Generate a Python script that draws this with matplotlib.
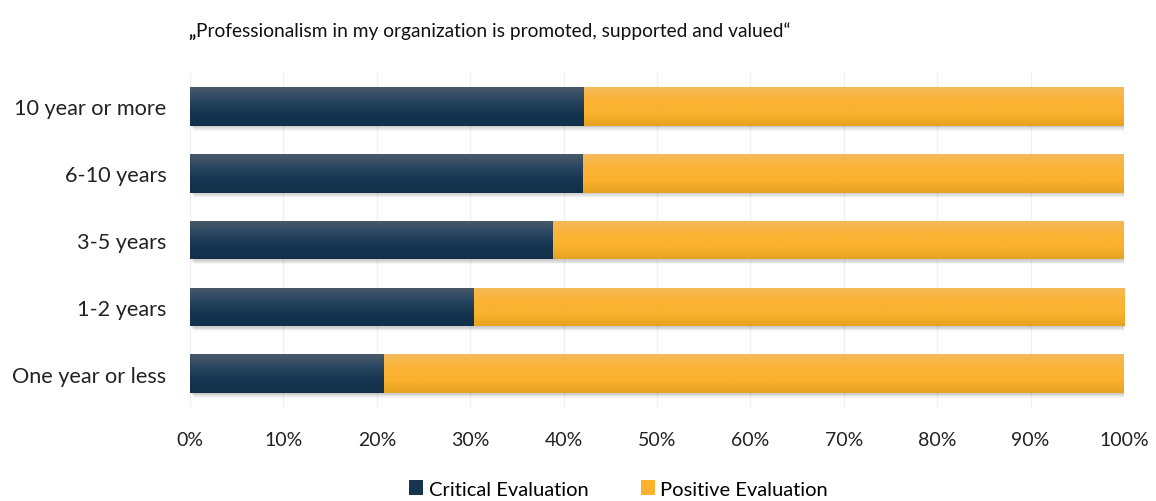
import numpy as np
import matplotlib.pyplot as plt
from matplotlib.colors import LinearSegmentedColormap
from matplotlib.patches import Rectangle
from matplotlib.offsetbox import TextArea, HPacker, AnchoredOffsetbox

plt.rcParams['font.family'] = ['Lato', 'DejaVu Sans']

categories = ["One year or less", "1-2 years", "3-5 years", "6-10 years", "10 year or more"]
critical = [20.8, 30.4, 38.9, 42.1, 42.2]
positive = [100 - c for c in critical]
xticks = np.arange(0, 101, 10)
title_open = "\u201e"
title_rest = "Professionalism in my organization is promoted, supported and valued\u201c"

dark_cmap = LinearSegmentedColormap.from_list("dark", ["#12304a", "#15344f", "#2a4660", "#4b5a6a"])
gold_cmap = LinearSegmentedColormap.from_list("gold", ["#e6a221", "#fbb22d", "#fbb437", "#f5b95e"])

fig = plt.figure(figsize=(11.56, 5.02), dpi=100)
ax = fig.add_axes([0.1644, 0.187, 0.8079, 0.6656])

y = np.arange(len(categories))
height = 0.58

bars_c = ax.barh(y, critical, height=height, color="none", edgecolor="none", zorder=3)
bars_p = ax.barh(y, positive, left=critical, height=height, color="none", edgecolor="none", zorder=3)

# soft drop shadow under each full row
for yi in y:
    for k in range(6):
        off = (k + 1) * 0.012
        ax.add_patch(Rectangle((0.15 + k * 0.05, yi - height / 2 - off), 100 + k * 0.05, height,
                               facecolor="black", alpha=0.035, edgecolor="none", zorder=2))

# vertical gradient fill clipped to each bar
grad = np.linspace(0, 1, 256).reshape(-1, 1)
for bars, cmap in ((bars_c, dark_cmap), (bars_p, gold_cmap)):
    for bar in bars:
        x0, yb = bar.get_x(), bar.get_y()
        w, h = bar.get_width(), bar.get_height()
        im = ax.imshow(grad, cmap=cmap, aspect="auto", origin="lower",
                       extent=(x0, x0 + w, yb, yb + h), zorder=4)
        im.set_clip_path(bar)

ax.set_xlim(0, 100)
ax.set_ylim(-0.5, len(categories) - 0.5)
ax.set_xticks(xticks)
ax.set_xticklabels([f"{t}%" for t in xticks], fontsize=14, color="#222222")
ax.set_yticks(y)
ax.set_yticklabels(categories, fontsize=15.6, color="#222222")
ax.tick_params(length=0, pad=17)
ax.tick_params(axis="x", pad=17)
ax.grid(axis="x", color="#f0f0f0", linewidth=1, zorder=0)
for s in ax.spines.values():
    s.set_visible(False)

# title with a bold opening quote
title_box = HPacker(children=[
    TextArea(title_open, textprops=dict(fontsize=13.8, fontweight="bold", color="#111111")),
    TextArea(title_rest, textprops=dict(fontsize=13.8, color="#111111")),
], align="baseline", pad=0, sep=0)
fig.add_artist(AnchoredOffsetbox(loc="center left", child=title_box, frameon=False,
                                 bbox_to_anchor=(0.163, 0.937), bbox_transform=fig.transFigure,
                                 pad=0, borderpad=0))

handles = [Rectangle((0, 0), 1, 1, facecolor="#17354f"),
           Rectangle((0, 0), 1, 1, facecolor="#fbb22d")]
fig.legend(handles, ["Critical Evaluation", "Positive Evaluation"], loc="center",
           bbox_to_anchor=(0.535, 0.024), ncol=2, frameon=False, fontsize=14.5,
           handlelength=0.7, handleheight=0.7, handletextpad=0.25, columnspacing=2.6)

fig.savefig("out.png", dpi=100)
